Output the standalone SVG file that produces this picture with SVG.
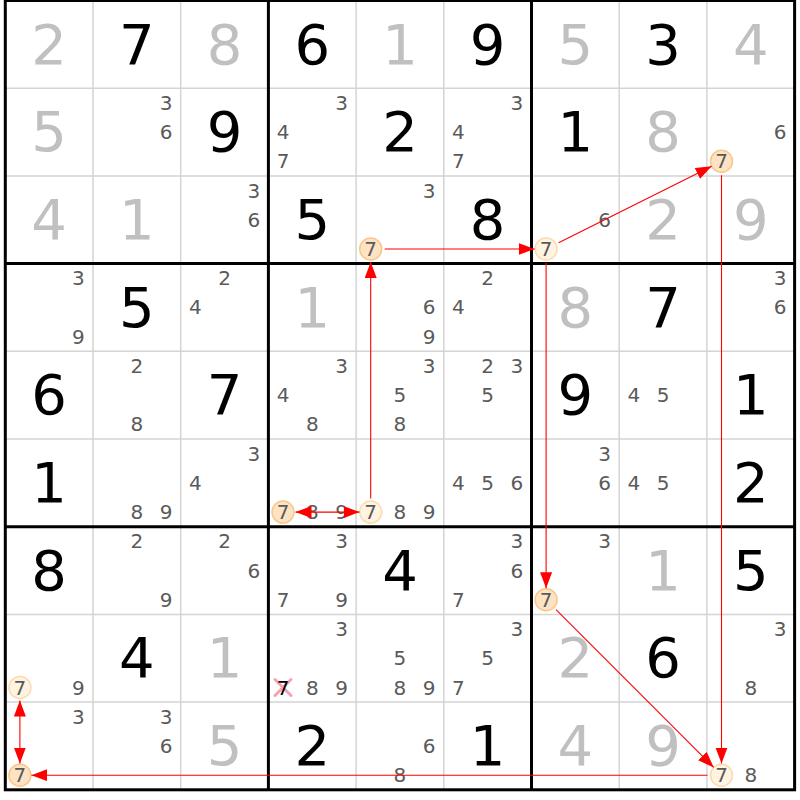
<svg xmlns="http://www.w3.org/2000/svg" width="800" height="800" viewBox="0 0 800 800">
<style>
text{font-family:"DejaVu Sans","Verdana",sans-serif;text-anchor:middle}
.g{font-size:56px;fill:#000}
.s{font-size:56px;fill:#c0c0c0}
.c{font-size:20px;fill:#5a5a5a}
.k{font-size:20px;fill:#000}
.thin{stroke:#d4d4d4;stroke-width:1.5}
.thick{stroke:#000;stroke-width:3}
.on{fill:#fde3c4;stroke:#f9c78a;stroke-width:1.5}
.off{fill:#fff3e2;stroke:#fcdbae;stroke-width:1.5}
.ln{stroke:#ff0000;stroke-width:1.1;fill:none}
</style>
<defs>
<marker id="ah" markerUnits="userSpaceOnUse" markerWidth="17" markerHeight="13" refX="16" refY="6" orient="auto-start-reverse">
<path d="M0,0 L16,6 L0,12 z" fill="#ff0000"/>
</marker>
</defs>
<rect x="0" y="0" width="800" height="800" fill="#fff"/>
<g id="grid">
<path class="thin" d="M93,0.5V789.8M180.7,0.5V789.8M356.1,0.5V789.8M443.8,0.5V789.8M619.2,0.5V789.8M706.9,0.5V789.8M5.3,88.2H794.6M5.3,175.9H794.6M5.3,351.3H794.6M5.3,439H794.6M5.3,614.4H794.6M5.3,702.1H794.6"/>
<path class="thick" fill="none" d="M268.4,0.5V789.8M531.5,0.5V789.8M5.3,263.6H794.6M5.3,526.7H794.6"/>
<rect class="thick" fill="none" x="5.3" y="0.5" width="789.3" height="789.3"/>
</g>
<g id="givens">
<text class="s" x="49.15" y="63.5">2</text><text class="g" x="136.85" y="63.5">7</text><text class="s" x="224.55" y="63.5">8</text><text class="g" x="312.25" y="63.5">6</text><text class="s" x="399.95" y="63.5">1</text><text class="g" x="487.65" y="63.5">9</text><text class="s" x="575.35" y="63.5">5</text><text class="g" x="663.05" y="63.5">3</text><text class="s" x="750.75" y="63.5">4</text>
<text class="s" x="49.15" y="151.2">5</text><text class="g" x="224.55" y="151.2">9</text><text class="g" x="399.95" y="151.2">2</text><text class="g" x="575.35" y="151.2">1</text><text class="s" x="663.05" y="151.2">8</text>
<text class="s" x="49.15" y="238.9">4</text><text class="s" x="136.85" y="238.9">1</text><text class="g" x="312.25" y="238.9">5</text><text class="g" x="487.65" y="238.9">8</text><text class="s" x="663.05" y="238.9">2</text><text class="s" x="750.75" y="238.9">9</text>
<text class="g" x="136.85" y="326.6">5</text><text class="s" x="312.25" y="326.6">1</text><text class="s" x="575.35" y="326.6">8</text><text class="g" x="663.05" y="326.6">7</text>
<text class="g" x="49.15" y="414.3">6</text><text class="g" x="224.55" y="414.3">7</text><text class="g" x="575.35" y="414.3">9</text><text class="g" x="750.75" y="414.3">1</text>
<text class="g" x="49.15" y="502">1</text><text class="g" x="750.75" y="502">2</text>
<text class="g" x="49.15" y="589.7">8</text><text class="g" x="399.95" y="589.7">4</text><text class="s" x="663.05" y="589.7">1</text><text class="g" x="750.75" y="589.7">5</text>
<text class="g" x="136.85" y="677.4">4</text><text class="s" x="224.55" y="677.4">1</text><text class="s" x="575.35" y="677.4">2</text><text class="g" x="663.05" y="677.4">6</text>
<text class="s" x="224.55" y="765.1">5</text><text class="g" x="312.25" y="765.1">2</text><text class="g" x="487.65" y="765.1">1</text><text class="s" x="575.35" y="765.1">4</text><text class="s" x="663.05" y="765.1">9</text>
</g>
<g id="candidates">
<text class="c" x="166.1" y="109.8">3</text><text class="c" x="166.1" y="139.05">6</text>
<text class="c" x="341.5" y="109.8">3</text><text class="c" x="283" y="139.05">4</text><text class="c" x="283" y="168.3">7</text>
<text class="c" x="516.9" y="109.8">3</text><text class="c" x="458.4" y="139.05">4</text><text class="c" x="458.4" y="168.3">7</text>
<text class="c" x="780" y="139.05">6</text>
<text class="c" x="253.8" y="197.5">3</text><text class="c" x="253.8" y="226.75">6</text>
<text class="c" x="429.2" y="197.5">3</text>
<text class="c" x="604.6" y="226.75">6</text>
<text class="c" x="78.4" y="285.2">3</text><text class="c" x="78.4" y="343.7">9</text>
<text class="c" x="224.55" y="285.2">2</text><text class="c" x="195.3" y="314.45">4</text>
<text class="c" x="429.2" y="314.45">6</text><text class="c" x="429.2" y="343.7">9</text>
<text class="c" x="487.65" y="285.2">2</text><text class="c" x="458.4" y="314.45">4</text>
<text class="c" x="780" y="285.2">3</text><text class="c" x="780" y="314.45">6</text>
<text class="c" x="136.85" y="372.9">2</text><text class="c" x="136.85" y="431.4">8</text>
<text class="c" x="341.5" y="372.9">3</text><text class="c" x="283" y="402.15">4</text><text class="c" x="312.25" y="431.4">8</text>
<text class="c" x="429.2" y="372.9">3</text><text class="c" x="399.95" y="402.15">5</text><text class="c" x="399.95" y="431.4">8</text>
<text class="c" x="487.65" y="372.9">2</text><text class="c" x="516.9" y="372.9">3</text><text class="c" x="487.65" y="402.15">5</text>
<text class="c" x="633.8" y="402.15">4</text><text class="c" x="663.05" y="402.15">5</text>
<text class="c" x="136.85" y="519.1">8</text><text class="c" x="166.1" y="519.1">9</text>
<text class="c" x="253.8" y="460.6">3</text><text class="c" x="195.3" y="489.85">4</text>
<text class="c" x="312.25" y="519.1">8</text><text class="c" x="341.5" y="519.1">9</text>
<text class="c" x="399.95" y="519.1">8</text><text class="c" x="429.2" y="519.1">9</text>
<text class="c" x="458.4" y="489.85">4</text><text class="c" x="487.65" y="489.85">5</text><text class="c" x="516.9" y="489.85">6</text>
<text class="c" x="604.6" y="460.6">3</text><text class="c" x="604.6" y="489.85">6</text>
<text class="c" x="633.8" y="489.85">4</text><text class="c" x="663.05" y="489.85">5</text>
<text class="c" x="136.85" y="548.3">2</text><text class="c" x="166.1" y="606.8">9</text>
<text class="c" x="224.55" y="548.3">2</text><text class="c" x="253.8" y="577.55">6</text>
<text class="c" x="341.5" y="548.3">3</text><text class="c" x="283" y="606.8">7</text><text class="c" x="341.5" y="606.8">9</text>
<text class="c" x="516.9" y="548.3">3</text><text class="c" x="516.9" y="577.55">6</text><text class="c" x="458.4" y="606.8">7</text>
<text class="c" x="604.6" y="548.3">3</text>
<text class="c" x="78.4" y="694.5">9</text>
<text class="c" x="341.5" y="636">3</text><text class="c" x="312.25" y="694.5">8</text><text class="c" x="341.5" y="694.5">9</text>
<text class="c" x="399.95" y="665.25">5</text><text class="c" x="399.95" y="694.5">8</text><text class="c" x="429.2" y="694.5">9</text>
<text class="c" x="516.9" y="636">3</text><text class="c" x="487.65" y="665.25">5</text><text class="c" x="458.4" y="694.5">7</text>
<text class="c" x="780" y="636">3</text><text class="c" x="750.75" y="694.5">8</text>
<text class="c" x="78.4" y="723.7">3</text>
<text class="c" x="166.1" y="723.7">3</text><text class="c" x="166.1" y="752.95">6</text>
<text class="c" x="429.2" y="752.95">6</text><text class="c" x="399.95" y="782.2">8</text>
<text class="c" x="750.75" y="782.2">8</text>
</g>
<g id="eliminated">
<path d="M275,679.5L291,695.5M291,679.5L275,695.5" stroke="#f4a3b1" stroke-width="3" stroke-linecap="round"/>
<text class="k" x="283" y="694.5">7</text>
</g>
<g id="node-r2c8"><circle class="on" cx="721.5" cy="161.3" r="11"/><text class="c" x="721.5" y="168.3">7</text></g>
<g id="node-r3c5"><circle class="on" cx="370.7" cy="249" r="11"/><text class="c" x="370.7" y="256">7</text></g>
<g id="node-r3c7"><circle class="off" cx="546.1" cy="249" r="11"/><text class="c" x="546.1" y="256">7</text></g>
<g id="node-r6c4"><circle class="on" cx="283" cy="512.1" r="11"/><text class="c" x="283" y="519.1">7</text></g>
<g id="node-r6c5"><circle class="off" cx="370.7" cy="512.1" r="11"/><text class="c" x="370.7" y="519.1">7</text></g>
<g id="node-r7c7"><circle class="on" cx="546.1" cy="599.8" r="11"/><text class="c" x="546.1" y="606.8">7</text></g>
<g id="node-r8c1"><circle class="off" cx="19.9" cy="687.5" r="11"/><text class="c" x="19.9" y="694.5">7</text></g>
<g id="node-r9c1"><circle class="on" cx="19.9" cy="775.2" r="11"/><text class="c" x="19.9" y="782.2">7</text></g>
<g id="node-r9c9"><circle class="off" cx="721.5" cy="775.2" r="11"/><text class="c" x="721.5" y="782.2">7</text></g>
<g id="connectors">
<line class="ln" x1="384.7" y1="249" x2="534.6" y2="249" marker-end="url(#ah)"/>
<line class="ln" x1="558.6" y1="242.7" x2="711.7" y2="166.2" marker-end="url(#ah)"/>
<line class="ln" x1="721.5" y1="175.3" x2="721.5" y2="763.6" marker-end="url(#ah)"/>
<line class="ln" x1="546.1" y1="263" x2="546.1" y2="588.3" marker-end="url(#ah)"/>
<line class="ln" x1="556" y1="609.7" x2="713.7" y2="767.4" marker-end="url(#ah)"/>
<line class="ln" x1="707.5" y1="775.2" x2="31.4" y2="775.2" marker-end="url(#ah)"/>
<line class="ln" x1="19.9" y1="700.5" x2="19.9" y2="763.5" marker-start="url(#ah)" marker-end="url(#ah)"/>
<line class="ln" x1="295.5" y1="512.1" x2="359.5" y2="512.1" marker-start="url(#ah)" marker-end="url(#ah)"/>
<line class="ln" x1="370.7" y1="498.5" x2="370.7" y2="262" marker-end="url(#ah)"/>
</g>
</svg>
